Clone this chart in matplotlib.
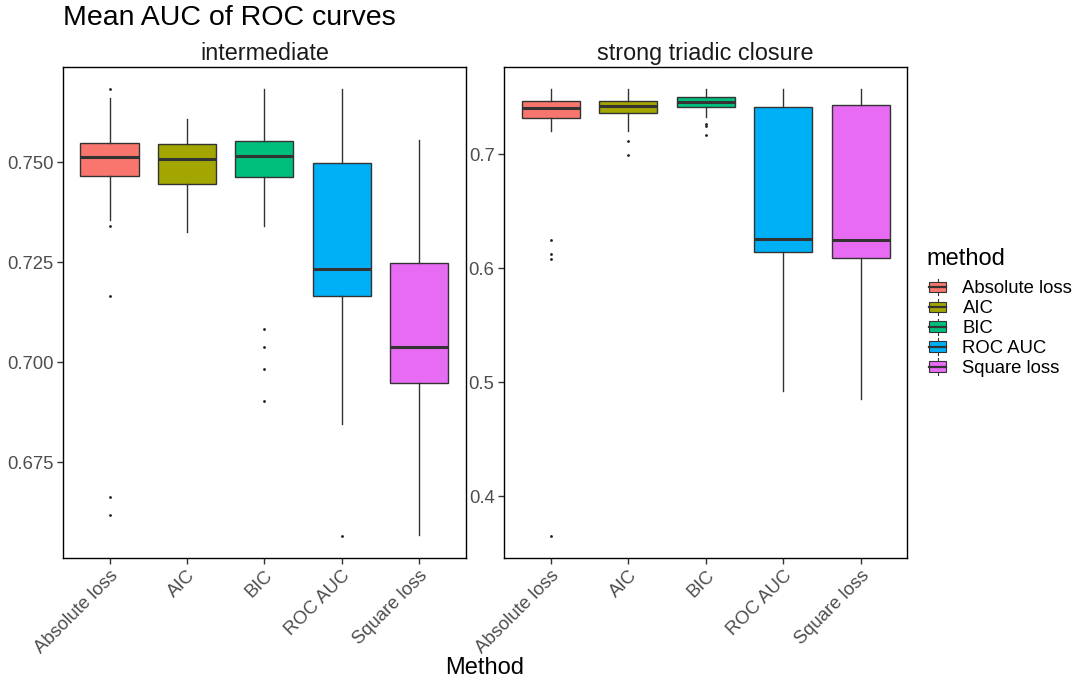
import matplotlib
matplotlib.use('Agg')
from matplotlib import pyplot as plt
from matplotlib.legend_handler import HandlerBase
from matplotlib.patches import Rectangle
from matplotlib.lines import Line2D

plt.rcParams['font.family'] = ['Liberation Sans', 'DejaVu Sans']

methods = ['Absolute loss', 'AIC', 'BIC', 'ROC AUC', 'Square loss']
colors = ['#F8766D', '#A3A500', '#00BF7D', '#00B0F6', '#E76BF3']

# intermediate
inter_hi = [0.7659, 0.7607, 0.7682, 0.7682, 0.7554]
inter_q3 = [0.7548, 0.7545, 0.7553, 0.7497, 0.7247]
inter_med = [0.7512, 0.7508, 0.7516, 0.7233, 0.7037]
inter_q1 = [0.7465, 0.7445, 0.7463, 0.7166, 0.6948]
inter_lo = [0.7355, 0.7326, 0.7340, 0.6844, 0.6567]
inter_fliers = [
    [0.7682, 0.7340, 0.7164, 0.6663, 0.6618],
    [],
    [0.7083, 0.7038, 0.6982, 0.6903],
    [0.6566],
    [],
]

# strong triadic closure
strong_hi = [0.7570, 0.7570, 0.7570, 0.7570, 0.7570]
strong_q3 = [0.7470, 0.7470, 0.7500, 0.7412, 0.7430]
strong_med = [0.7406, 0.7424, 0.7459, 0.6260, 0.6248]
strong_q1 = [0.7316, 0.7362, 0.7412, 0.6140, 0.6090]
strong_lo = [0.7207, 0.7207, 0.7330, 0.4926, 0.4851]
strong_fliers = [
    [0.6248, 0.6127, 0.6085, 0.3654],
    [0.7119, 0.6994],
    [0.7266, 0.7245, 0.7172],
    [],
    [],
]

panels = [
    ('intermediate', inter_lo, inter_q1, inter_med, inter_q3, inter_hi, inter_fliers,
     (0.6511, 0.7737), [0.675, 0.700, 0.725, 0.750], '{:.3f}'),
    ('strong triadic closure', strong_lo, strong_q1, strong_med, strong_q3, strong_hi,
     strong_fliers, (0.3461, 0.7763), [0.4, 0.5, 0.6, 0.7], '{:.1f}'),
]

fig = plt.figure(figsize=(10.76, 6.82), dpi=100)
ax_l = fig.add_axes([0.0586, 0.1823, 0.3743, 0.7191])
ax_r = fig.add_axes([0.4687, 0.1823, 0.3743, 0.7191])

dark = '#333333'
grey = '#4D4D4D'

for ax, (name, lo, q1, med, q3, hi, fl, ylim, yt, fmt) in zip([ax_l, ax_r], panels):
    stats = []
    for i in range(len(methods)):
        stats.append(dict(whislo=lo[i], q1=q1[i], med=med[i], q3=q3[i],
                          whishi=hi[i], fliers=fl[i]))
    bp = ax.bxp(stats, positions=range(1, 6), widths=0.75, patch_artist=True,
                showcaps=False,
                boxprops=dict(edgecolor=dark, linewidth=1.0),
                whiskerprops=dict(color=dark, linewidth=1.0),
                medianprops=dict(color=dark, linewidth=2.2, solid_capstyle='butt'),
                flierprops=dict(marker='o', markersize=1.0, markerfacecolor='#222222',
                                markeredgecolor='#222222', linestyle='none'))
    for patch, c in zip(bp['boxes'], colors):
        patch.set_facecolor(c)
    ax.set_xlim(0.4, 5.6)
    ax.set_ylim(*ylim)
    ax.set_yticks(yt)
    ax.set_yticklabels([fmt.format(v) for v in yt])
    ax.set_xticks(range(1, 6))
    ax.set_xticklabels(methods, rotation=45, ha='right', va='top',
                       rotation_mode='anchor')
    ax.tick_params(axis='both', colors=dark, length=4, width=1.0,
                   labelsize=13.3, labelcolor=grey, pad=3)
    for s in ax.spines.values():
        s.set_color('black')
        s.set_linewidth(1.0)
    ax.set_title(name, fontsize=16.8, color='#1A1A1A', pad=5)

fig.text(0.0586, 0.993, 'Mean AUC of ROC curves', fontsize=20.5, ha='left', va='top')
fig.text(0.450, 0.005, 'Method', fontsize=17, ha='center', va='bottom')


class BoxKey(HandlerBase):
    def create_artists(self, legend, orig_handle, xdescent, ydescent, width, height,
                       fontsize, trans):
        c = orig_handle.get_facecolor()
        bw = width * 0.8
        x0 = xdescent + (width - bw) / 2
        cx = xdescent + width / 2
        box = Rectangle((x0, -ydescent + height * 0.12), bw, height * 0.76,
                        facecolor=c, edgecolor=dark, linewidth=0.8, transform=trans)
        wh = Line2D([cx, cx], [-ydescent - height * 0.08, -ydescent + height * 1.08],
                    color=dark, linewidth=0.8, transform=trans)
        md = Line2D([x0, x0 + bw], [-ydescent + height * 0.5] * 2,
                    color=dark, linewidth=1.6, transform=trans)
        return [wh, box, md]


handles = [Rectangle((0, 0), 1, 1, facecolor=c) for c in colors]
leg = fig.legend(handles, methods, handler_map={Rectangle: BoxKey()},
                 loc='upper left', bbox_to_anchor=(0.849, 0.655), frameon=False,
                 fontsize=13.3, title='method', title_fontsize=17,
                 handlelength=1.2, handleheight=0.8, handletextpad=0.75,
                 labelspacing=0.13, borderpad=0.2)
leg._legend_box.align = 'left'
leg._legend_box.sep = 7

fig.savefig('out.png', dpi=100)
